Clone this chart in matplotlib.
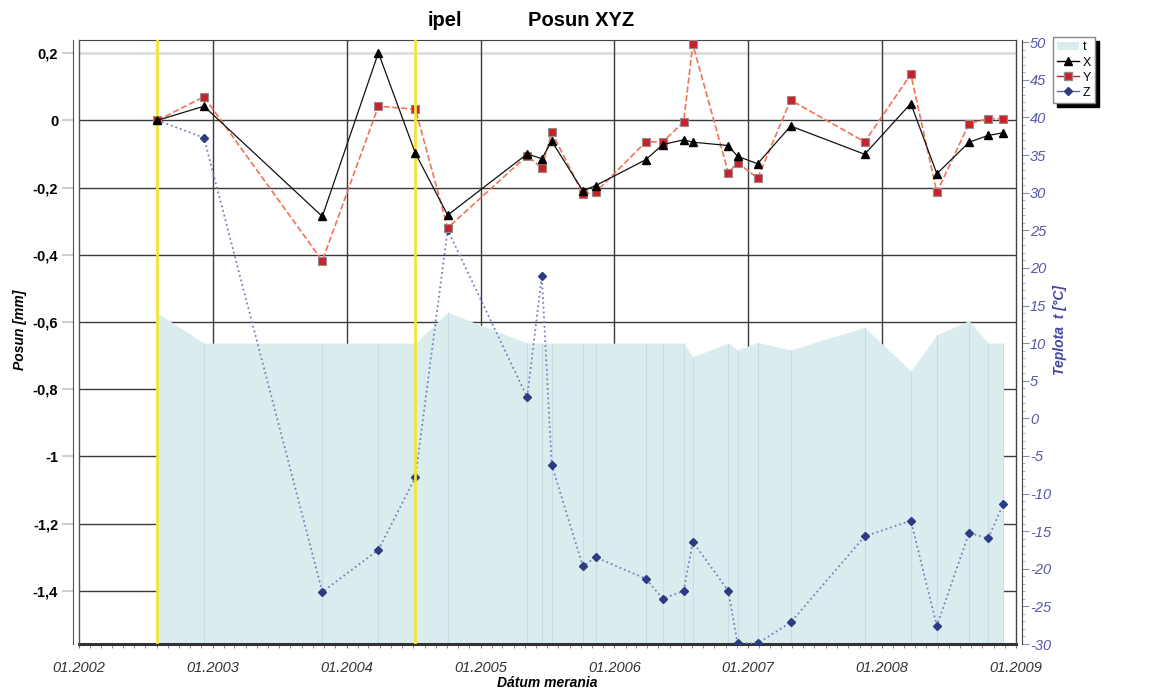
import matplotlib
matplotlib.use("Agg")
import matplotlib.pyplot as plt
import matplotlib.dates as mdates
from matplotlib.lines import Line2D
from matplotlib.patches import Patch
from matplotlib.ticker import FixedLocator, MultipleLocator, FuncFormatter
import numpy as np
import pandas as pd

plt.rcParams['font.family'] = ['Liberation Sans', 'DejaVu Sans']
plt.rcParams['axes.unicode_minus'] = False

# measurement dates
dates = pd.to_datetime([
    "2002-08-03", "2002-12-08", "2003-10-27", "2004-03-28", "2004-07-07",
    "2004-10-03", "2005-05-08", "2005-06-17", "2005-07-14", "2005-10-07",
    "2005-11-11", "2006-03-28", "2006-05-13", "2006-07-09", "2006-08-03",
    "2006-11-08", "2006-12-03", "2007-01-27", "2007-04-27", "2007-11-15",
    "2008-03-20", "2008-05-30", "2008-08-26", "2008-10-17", "2008-11-27",
])

# displacements [mm]
pos_x = [0.0, 0.042, -0.286, 0.201, -0.098, -0.282, -0.100, -0.114, -0.062, -0.210,
         -0.194, -0.117, -0.072, -0.058, -0.065, -0.075, -0.107, -0.129, -0.017, -0.101,
         0.050, -0.159, -0.065, -0.045, -0.037]
pos_y = [0.0, 0.070, -0.418, 0.042, 0.033, -0.320, -0.105, -0.142, -0.035, -0.219,
         -0.214, -0.064, -0.064, -0.005, 0.226, -0.156, -0.126, -0.172, 0.060, -0.064,
         0.137, -0.214, -0.010, 0.005, 0.005]
pos_z = [0.0, -0.052, -1.403, -1.278, -1.062, -0.326, -0.824, -0.463, -1.025, -1.327,
         -1.300, -1.364, -1.423, -1.400, -1.254, -1.400, -1.556, -1.556, -1.494, -1.238,
         -1.191, -1.504, -1.227, -1.244, -1.142]

# air temperature [°C]
temp = [14.0, 10.0, 10.0, 10.0, 10.0, 14.1, 10.0, 10.0, 10.0, 10.0,
        10.0, 10.0, 10.0, 10.0, 8.2, 10.0, 9.1, 10.1, 9.1, 12.1,
        6.3, 11.1, 13.0, 10.0, 10.0]

left_ticks = [0.2, 0, -0.2, -0.4, -0.6, -0.8, -1.0, -1.2, -1.4]

fig = plt.figure(figsize=(11.55, 6.93), dpi=100)
ax = fig.add_axes([79 / 1155, 1 - 644 / 693, (1016 - 79) / 1155, (644 - 40) / 693])
tax = ax.twinx()
tax.set_ylim(-30.0, 50.3)

ax.set_xlim(pd.Timestamp("2002-01-01"), pd.Timestamp("2009-01-01"))

# grid
for v in left_ticks[1:]:
    ax.axhline(v, color='#3a3a3a', lw=1.0, zorder=0.5)
ax.axhline(0.2, color='#dedede', lw=2.0, zorder=0.5)
for yr in range(2003, 2009):
    ax.axvline(pd.Timestamp(f"{yr}-01-01"), color='#3a3a3a', lw=1.0, zorder=0.5)

# temperature area (right scale)
ax.fill_between(dates, temp, -40, transform=tax.transData,
                color='#dbecef', lw=0, zorder=1)
ax.vlines(dates, -40, temp, transform=tax.transData,
          color='#c6dde1', lw=0.8, zorder=1.1)

# series
ax.plot(dates, pos_z, ':', color='#7480bd', lw=1.3, marker='D', ms=4.5,
        mfc='#2d3b82', mec='#2d3b82', zorder=3)
ax.plot(dates, pos_y, '--', color='#f27455', lw=1.2, marker='s', ms=6,
        mfc='#c8232b', mec='#9a8a8a', mew=0.8, zorder=4)
ax.plot(dates, pos_x, '-', color='#111111', lw=0.9, marker='^', ms=6,
        mfc='black', mec='black', zorder=5)

# yellow markers of reference measurements
for d in (dates[0], dates[4]):
    ax.axvline(d, color='#f3e536', lw=2, zorder=4.5)

ax.set_ylim(-1.558, 0.239)

# left axis
ax.yaxis.set_major_locator(FixedLocator(left_ticks))
ax.yaxis.set_major_formatter(FuncFormatter(
    lambda v, p: "0" if abs(v) < 1e-9 else (f"{v:g}").replace(".", ",")))
ax.tick_params(axis='y', length=8, color='#cfcfcf', width=1.5, pad=3,
               labelsize=10.5)

# bottom axis
ax.xaxis.set_major_locator(mdates.YearLocator())
ax.xaxis.set_major_formatter(mdates.DateFormatter("%m.%Y"))
ax.xaxis.set_minor_locator(mdates.MonthLocator())
ax.tick_params(axis='x', which='both', length=3, color='#777777', pad=9,
               labelsize=10.5, labelcolor='#333333')

# right axis
tax.yaxis.set_major_locator(MultipleLocator(5))
tax.yaxis.set_minor_locator(MultipleLocator(1))
tax.tick_params(axis='y', which='major', length=5, color='#8a8ab8',
                labelcolor='#5858a8', labelsize=10.5, pad=1)
tax.tick_params(axis='y', which='minor', length=2.5, color='#a0a0c8')

# frame
for a in (ax, tax):
    for s in a.spines.values():
        s.set_visible(False)
ax.spines['top'].set_visible(True)
ax.spines['top'].set_color('#444444')
ax.spines['left'].set_visible(True)
ax.spines['left'].set_color('#555555')
ax.spines['bottom'].set_visible(True)
ax.spines['bottom'].set_color('#333333')
ax.spines['bottom'].set_linewidth(2.2)
ax.spines['left'].set_position(('outward', 4))
tax.spines['right'].set_visible(True)
tax.spines['right'].set_color('#444444')
tax.spines['right'].set_position(('outward', 4))
ax.plot([0, 0], [0, 1], color='#555555', lw=1.0, transform=ax.transAxes,
        clip_on=False, zorder=6)
ax.plot([1, 1], [0, 1], color='#444444', lw=1.0, transform=ax.transAxes,
        clip_on=False, zorder=6)

# labels and title
ax.set_ylabel("Posun [mm]", fontsize=10, fontweight='bold', fontstyle='italic')
ax.yaxis.set_label_coords(-0.056, 0.52)
tax.set_ylabel("Teplota  t [°C]", fontsize=10, fontweight='bold',
               fontstyle='italic', color='#4646a0')
tax.yaxis.set_label_coords(1.039, 0.52)
ax.set_xlabel("Dátum merania", fontsize=10, fontweight='bold',
              fontstyle='italic', labelpad=1)
fig.text(428 / 1155, 1 - 21 / 693, "ipel", fontsize=14.5, fontweight='bold',
         va='center', ha='left')
fig.text(528 / 1155, 1 - 21 / 693, "Posun XYZ", fontsize=14.5,
         fontweight='bold', va='center', ha='left')

# legend
handles = [
    Patch(facecolor='#dbecef', edgecolor='none'),
    Line2D([], [], color='black', lw=1, marker='^', ms=5.5),
    Line2D([], [], color='#c8232b', lw=1, marker='s', ms=5.5, mec='#9a8a8a'),
    Line2D([], [], color='#5a66a8', lw=1, marker='D', ms=4.5, mfc='#2d3b82',
           mec='#2d3b82'),
]
fig.legend(handles, ["t", "X", "Y", "Z"], loc='upper left',
           bbox_to_anchor=(1053 / 1155, 1 - 37 / 693), fontsize=9,
           frameon=True, fancybox=False, edgecolor='#888888',
           framealpha=1, handlelength=1.7, handletextpad=0.3,
           borderpad=0.35, labelspacing=0.25, borderaxespad=0,
           shadow={'ox': 3, 'oy': -3, 'facecolor': 'black',
                   'edgecolor': 'black', 'alpha': 1})

# tick label fonts
fig.canvas.draw()
for lab in ax.get_yticklabels():
    lab.set_fontweight('bold')
for lab in ax.get_xticklabels() + tax.get_yticklabels():
    lab.set_fontstyle('italic')

fig.savefig("out.png", dpi=100)
